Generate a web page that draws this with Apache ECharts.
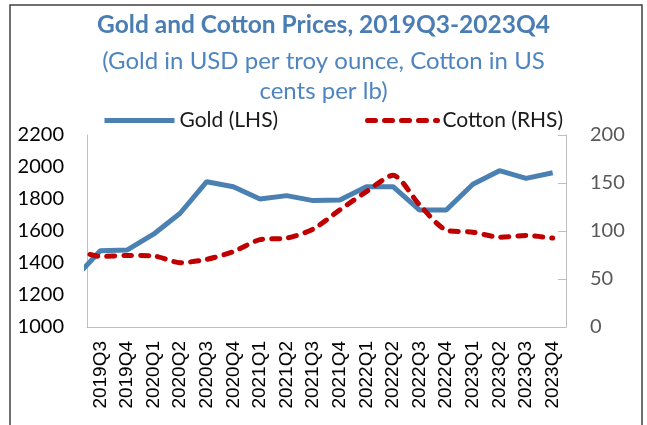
<!DOCTYPE html>
<html>
<head>
<meta charset="utf-8">
<script src="https://cdn.jsdelivr.net/npm/echarts@6/dist/echarts.min.js"></script>
<style>
  html, body { margin: 0; padding: 0; background: #fff; }
  #chart { width: 647px; height: 425px; }
</style>
</head>
<body>
<div id="chart"></div>
<script>
  // quarters shown on the axis
  const quarters = ['2019Q3', '2019Q4', '2020Q1', '2020Q2', '2020Q3', '2020Q4',
    '2021Q1', '2021Q2', '2021Q3', '2021Q4', '2022Q1', '2022Q2',
    '2022Q3', '2022Q4', '2023Q1', '2023Q2', '2023Q3', '2023Q4']

  // first value is 2019Q2, it is cut off at the left edge of the plot
  const gold = [1300, 1477, 1481, 1580, 1711, 1908, 1877, 1800, 1821, 1790, 1794,
    1877, 1877, 1731, 1731, 1892, 1977, 1929, 1964]
  const cotton = [81, 73.5, 74.5, 74, 67, 70.5, 78.5, 91, 92.5, 102, 122,
    141, 158, 127, 101, 98.8, 93.6, 95.3, 92.6]

  const leftTicks = [1000, 2200, 200]
  const rightTicks = [0, 200, 50]

  const chart = echarts.init(document.getElementById('chart'))

  // series sit on a hidden value axis so the first segment gets clipped
  const toPoints = (arr) => arr.map((v, i) => [i - 0.5, v])

  const subStyle = { color: '#4f85bf', fontSize: 24, fontWeight: 'normal', fontFamily: 'Lato' }
  const legendText = { color: '#1a1a1a', fontSize: 21, fontFamily: 'Lato' }
  const noSymbol = { color: 'rgba(0,0,0,0)', borderWidth: 0 }

  const option = {
    animation: false,
    title: [
      {
        text: 'Gold and Cotton Prices, 2019Q3-2023Q4',
        left: 'center',
        top: 8,
        textStyle: { color: '#4a7db3', fontSize: 24.5, fontWeight: 'bold', fontFamily: 'Lato' }
      },
      { text: '(Gold in USD per troy ounce, Cotton in US', left: 'center', top: 44, textStyle: subStyle },
      { text: 'cents per lb)', left: 'center', top: 74, textStyle: subStyle }
    ],
    legend: [
      {
        data: ['Gold (LHS)'],
        left: 102,
        top: 107,
        itemWidth: 70,
        itemHeight: 22,
        itemGap: 6,
        itemStyle: noSymbol,
        lineStyle: { width: 5 },
        textStyle: legendText,
        padding: 0,
        top: 110
      },
      {
        data: ['Cotton (RHS)'],
        left: 365,
        top: 110,
        padding: 0,
        itemWidth: 70,
        itemHeight: 22,
        itemStyle: noSymbol,
        lineStyle: { width: 5 },
        textStyle: legendText
      }
    ],
    grid: {
      left: 87,
      right: 81,
      top: 135,
      bottom: 98,
      containLabel: false
    },
    xAxis: [
      {
        type: 'category',
        data: quarters,
        boundaryGap: true,
        axisLine: { lineStyle: { color: '#bfbfbf', width: 1 } },
        axisTick: { inside: true, length: 7, lineStyle: { color: '#bfbfbf' } },
        axisLabel: {
          rotate: 90,
          margin: 14,
          color: '#000',
          fontSize: 19,
          fontFamily: 'Liberation Sans',
          interval: 0
        }
      },
      {
        type: 'value',
        min: 0,
        max: quarters.length,
        show: false
      }
    ],
    yAxis: [
      {
        type: 'value',
        min: leftTicks[0],
        max: leftTicks[1],
        interval: leftTicks[2],
        splitLine: { show: false },
        axisLine: { show: true, lineStyle: { color: '#bfbfbf' } },
        axisTick: { show: false },
        axisLabel: { color: '#000', fontSize: 20, fontFamily: 'Lato', margin: 23, formatter: (v) => String(v) }
      },
      {
        type: 'value',
        min: rightTicks[0],
        max: rightTicks[1],
        interval: rightTicks[2],
        position: 'right',
        splitLine: { show: false },
        axisLine: { show: true, lineStyle: { color: '#bfbfbf' } },
        axisTick: { show: true, inside: true, length: 8, lineStyle: { color: '#bfbfbf' } },
        axisLabel: { color: '#595959', fontSize: 20, fontFamily: 'Lato', margin: 24 }
      }
    ],
    series: [
      {
        name: 'Gold (LHS)',
        type: 'line',
        xAxisIndex: 1,
        yAxisIndex: 0,
        data: toPoints(gold),
        symbol: 'none',
        clip: true,
        z: 3,
        lineStyle: { color: '#4a80b2', width: 5 },
        itemStyle: { color: '#4a80b2' }
      },
      {
        name: 'Cotton (RHS)',
        type: 'line',
        xAxisIndex: 1,
        yAxisIndex: 1,
        data: toPoints(cotton),
        symbol: 'none',
        smooth: 0.25,
        clip: true,
        z: 4,
        lineStyle: { color: '#c00000', width: 5, type: [8, 9], cap: 'round' },
        itemStyle: { color: '#c00000' }
      }
    ],
    graphic: [
      {
        type: 'rect',
        shape: { x: 10, y: 5, width: 632, height: 440 },
        style: { fill: null, stroke: '#404040', lineWidth: 1.5 },
        silent: true
      }
    ]
  }

  chart.setOption(option)
</script>
</body>
</html>
